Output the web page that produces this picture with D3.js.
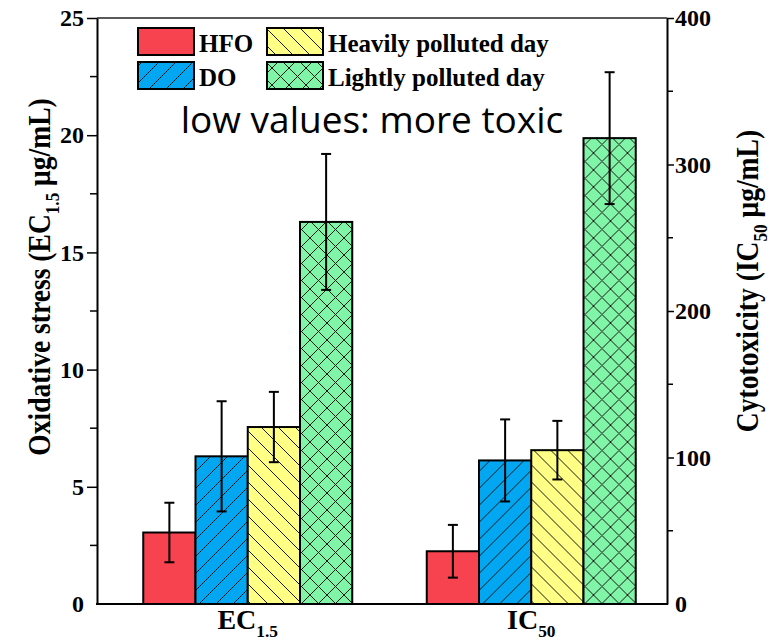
<!DOCTYPE html>
<html>
<head>
<meta charset="utf-8">
<script src="https://cdn.jsdelivr.net/npm/d3@7"></script>
<style>
  html, body { margin: 0; padding: 0; background: #fff; }
  svg { display: block; }
</style>
</head>
<body>
<svg id="chart" width="773" height="640"></svg>
<script>
// ---------------- data ----------------
const categories = ["EC1.5", "IC50"];
const seriesNames = ["HFO", "DO", "Heavily polluted day", "Lightly polluted day"];
const ec15Values = [3.05, 6.3, 7.55, 16.3];
const ec15Errors = [1.27, 2.35, 1.5, 2.9];
const ic50Values = [36, 98, 105, 318];
const ic50Errors = [18, 28, 20, 45];
const leftTicks = [0, 5, 10, 15, 20, 25];
const leftMinorTicks = [2.5, 7.5, 12.5, 17.5, 22.5];
const rightTicks = [0, 100, 200, 300, 400];
const rightMinorTicks = [50, 150, 250, 350];
const annotation = "low values: more toxic";

// ---------------- styles ----------------
const colors = ["#f6434f", "#03a6f0", "#ffff85", "#80f4a7"];
const patterns = [null, "fwd", "back", "cross"];
const serif = "'Liberation Serif', 'Times New Roman', serif";

const svg = d3.select("#chart");
const plotL = 97, plotR = 667, plotT = 18, plotB = 604;

const yL = d3.scaleLinear().domain([0, 25]).range([plotB, plotT]);
const yR = d3.scaleLinear().domain([0, 400]).range([plotB, plotT]);
const x0 = d3.scaleBand().domain(categories).range([106, 673]);
const groupW = 209;
const x1 = d3.scaleBand().domain(seriesNames)
  .range([x0.bandwidth() / 2 - groupW / 2, x0.bandwidth() / 2 + groupW / 2]);

// ---------------- patterns ----------------
const defs = svg.append("defs");
const P = 17;
function makePattern(id, fill, kind) {
  const p = defs.append("pattern").attr("id", id)
    .attr("patternUnits", "userSpaceOnUse").attr("width", P).attr("height", P);
  p.append("rect").attr("width", P).attr("height", P).attr("fill", fill);
  const lines = [];
  if (kind === "fwd" || kind === "cross") {
    lines.push(`M0,${P} L${P},0`, `M-${P/2},${P/2} L${P/2},-${P/2}`, `M${P/2},${P*1.5} L${P*1.5},${P/2}`);
  }
  if (kind === "back" || kind === "cross") {
    lines.push(`M0,0 L${P},${P}`, `M-${P/2},${P/2} L${P/2},${P*1.5}`, `M${P/2},-${P/2} L${P*1.5},${P/2}`);
  }
  lines.forEach(d => {
    p.append("path").attr("d", d).attr("stroke", "#1a1a1a")
      .attr("stroke-width", 1).attr("fill", "none");
  });
}
seriesNames.forEach((s, i) => {
  if (patterns[i]) makePattern("pat" + i, colors[i], patterns[i]);
});
const fillFor = i => patterns[i] ? `url(#pat${i})` : colors[i];

// ---------------- bars ----------------
const groups = [
  { cat: categories[0], values: ec15Values, errors: ec15Errors, y: yL },
  { cat: categories[1], values: ic50Values, errors: ic50Errors, y: yR }
];

groups.forEach(g => {
  const gg = svg.append("g").attr("transform", `translate(${x0(g.cat)},0)`);
  seriesNames.forEach((s, i) => {
    const v = g.values[i];
    gg.append("rect")
      .attr("x", x1(s)).attr("width", x1.bandwidth())
      .attr("y", g.y(v)).attr("height", g.y(0) - g.y(v))
      .attr("fill", fillFor(i)).attr("stroke", "#000").attr("stroke-width", 2);
  });
  seriesNames.forEach((s, i) => {
    const v = g.values[i], e = g.errors[i];
    const cx = x1(s) + x1.bandwidth() / 2;
    const eb = gg.append("g").attr("stroke", "#000").attr("stroke-width", 2);
    eb.append("line").attr("x1", cx).attr("x2", cx).attr("y1", g.y(v + e)).attr("y2", g.y(v - e));
    eb.append("line").attr("x1", cx - 5).attr("x2", cx + 5).attr("y1", g.y(v + e)).attr("y2", g.y(v + e));
    eb.append("line").attr("x1", cx - 5).attr("x2", cx + 5).attr("y1", g.y(v - e)).attr("y2", g.y(v - e));
  });
});

// ---------------- frame & axes ----------------
svg.append("line").attr("x1", plotL).attr("x2", plotR).attr("y1", plotT).attr("y2", plotT)
  .attr("stroke", "#222").attr("stroke-width", 1.5);
svg.append("line").attr("x1", plotL - 1).attr("x2", plotR + 1).attr("y1", plotB).attr("y2", plotB)
  .attr("stroke", "#000").attr("stroke-width", 2);

const axL = svg.append("g").attr("transform", `translate(${plotL},0)`)
  .call(d3.axisLeft(yL).tickValues(leftTicks).tickSize(10).tickPadding(3).tickSizeOuter(0));
axL.selectAll(".tick").filter(d => d === 0).select("line").remove();
axL.append("g").selectAll("line").data(leftMinorTicks).join("line")
  .attr("x1", 0).attr("x2", -7).attr("y1", d => yL(d)).attr("y2", d => yL(d))
  .attr("stroke", "#000").attr("stroke-width", 1.5);

const axR = svg.append("g").attr("transform", `translate(${plotR},0)`)
  .call(d3.axisRight(yR).tickValues(rightTicks).tickSize(7).tickPadding(1).tickSizeOuter(0));
axR.selectAll(".tick").filter(d => d === 0).select("line").remove();
axR.append("g").selectAll("line").data(rightMinorTicks).join("line")
  .attr("x1", 0).attr("x2", 6).attr("y1", d => yR(d)).attr("y2", d => yR(d))
  .attr("stroke", "#000").attr("stroke-width", 1.5);

[axL, axR].forEach(ax => {
  ax.select(".domain").attr("stroke-width", 2);
  ax.selectAll(".tick line").attr("stroke-width", 1.5);
  ax.selectAll(".tick text").attr("font-family", serif).attr("font-weight", "bold")
    .attr("font-size", 24).attr("fill", "#000");
});

// ---------------- axis titles ----------------
function subText(sel, main, sub, after, size) {
  sel.append("tspan").text(main);
  sel.append("tspan").attr("font-size", size * 0.62).attr("dy", size * 0.28).text(sub);
  if (after) sel.append("tspan").attr("dy", -size * 0.28).text(after);
}

const titleSize = 31;
const leftTitle = svg.append("text")
  .attr("transform", `translate(50,277) rotate(-90) scale(0.89,1)`)
  .attr("text-anchor", "middle").attr("font-family", serif).attr("font-weight", "bold")
  .attr("font-size", titleSize).attr("fill", "#000");
subText(leftTitle, "Oxidative stress (EC", "1.5", " μg/mL)", titleSize);

const rightTitle = svg.append("text")
  .attr("transform", `translate(758,281) rotate(-90) scale(0.89,1)`)
  .attr("text-anchor", "middle").attr("font-family", serif).attr("font-weight", "bold")
  .attr("font-size", titleSize).attr("fill", "#000");
subText(rightTitle, "Cytotoxicity (IC", "50", " μg/mL)", titleSize);

// category labels
const catSub = { "EC1.5": ["EC", "1.5"], "IC50": ["IC", "50"] };
categories.forEach(c => {
  const t = svg.append("text")
    .attr("x", x0(c) + x0.bandwidth() / 2).attr("y", 629)
    .attr("text-anchor", "middle").attr("font-family", serif).attr("font-weight", "bold")
    .attr("font-size", 28).attr("fill", "#000");
  subText(t, catSub[c][0], catSub[c][1], null, 28);
});

// ---------------- legend ----------------
const legendPos = [
  { x: 138, y: 28 }, { x: 138, y: 62 }, { x: 267, y: 28 }, { x: 267, y: 62 }
];
const leg = svg.append("g");
seriesNames.forEach((s, i) => {
  const p = legendPos[i];
  leg.append("rect").attr("x", p.x).attr("y", p.y).attr("width", 56).attr("height", 27)
    .attr("fill", fillFor(i)).attr("stroke", "#000").attr("stroke-width", 2);
  leg.append("text").attr("x", p.x + 61).attr("y", p.y + 24)
    .attr("font-family", serif).attr("font-weight", "bold").attr("font-size", 25)
    .attr("fill", "#000").text(s);
});

// ---------------- annotation ----------------
svg.append("text").attr("x", 372).attr("y", 133).attr("text-anchor", "middle")
  .attr("font-family", "'Open Sans', 'Noto Sans', sans-serif").attr("font-size", 37)
  .attr("fill", "#000").text(annotation);
</script>
</body>
</html>
